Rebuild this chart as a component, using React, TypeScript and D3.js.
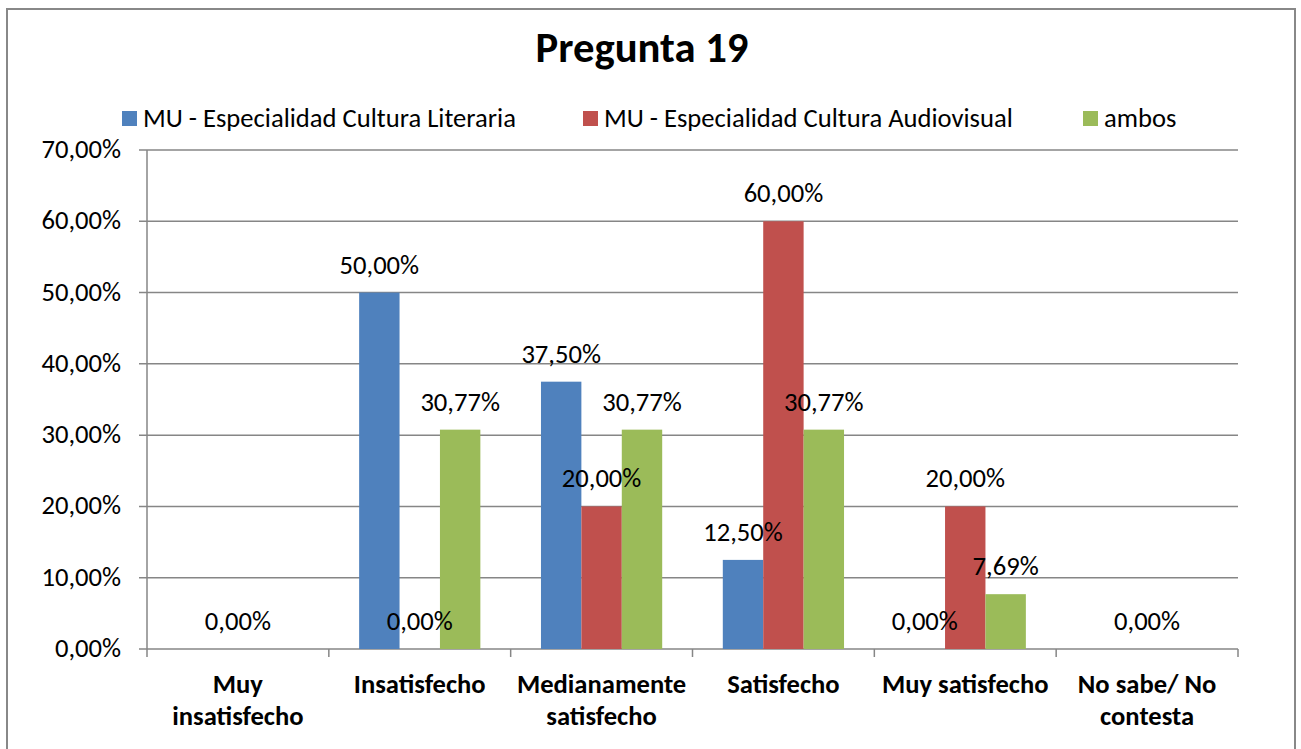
import React from "react";
import * as d3 from "d3";

const categories: string[][] = [
  ["Muy", "insatisfecho"],
  ["Insatisfecho"],
  ["Medianamente", "satisfecho"],
  ["Satisfecho"],
  ["Muy satisfecho"],
  ["No sabe/ No", "contesta"],
];
const seriesNames = [
  "MU - Especialidad Cultura Literaria",
  "MU - Especialidad Cultura Audiovisual",
  "ambos",
];
const literaria: (number | null)[] = [null, 50, 37.5, 12.5, 0, null];
const audiovisual: (number | null)[] = [0, 0, 20, 60, 20, 0];
const ambos: (number | null)[] = [null, 30.77, 30.77, 30.77, 7.69, null];
const yTicks = [0, 10, 20, 30, 40, 50, 60, 70];
const colors = ["#4F81BD", "#C0504D", "#9BBB59"];

const FONT = "Carlito, Calibri, Lato, sans-serif";
const FS = 26.6;

const fmt = (v: number) => v.toFixed(2).replace(".", ",") + "%";

export default function App() {
  const W = 1301, H = 749;
  const left = 147, right = 1238, top = 150, bottom = 649;
  const series = [literaria, audiovisual, ambos];
  const idx = categories.map((_, i) => String(i));
  const x0 = d3.scaleBand<string>().domain(idx).range([left, right]).padding(0);
  const bw = x0.bandwidth() / 4.5;
  const x1 = d3.scaleBand<string>().domain(["0", "1", "2"]).range([0, bw * 3]).padding(0);
  const y = d3.scaleLinear().domain([0, 70]).range([bottom, top]);
  const off = (x0.bandwidth() - bw * 3) / 2;
  const gridColor = "#868686";
  const legendX = [122, 583, 1083];

  return (
    <svg width={W} height={H} style={{ position: "absolute", left: 0, top: 0, background: "#fff" }} fontFamily={FONT}>
      <rect x={7} y={9} width={1288} height={760} fill="#fff" stroke="#888" strokeWidth={2} />
      <text x={642} y={62} textAnchor="middle" fontSize={42.7} fontWeight="bold" fill="#000">Pregunta 19</text>
      {seriesNames.map((s, i) => (
        <g key={s}>
          <rect x={legendX[i]} y={111} width={15} height={15} fill={colors[i]} />
          <text x={legendX[i] + 21} y={127} fontSize={FS} fill="#000">{s}</text>
        </g>
      ))}
      {yTicks.map((t) => (
        <g key={t}>
          <line x1={left - 8} x2={right} y1={y(t)} y2={y(t)} stroke={gridColor} strokeWidth={1.5} />
          <text x={121} y={y(t) + 8} textAnchor="end" fontSize={FS} fill="#000">{fmt(t)}</text>
        </g>
      ))}
      <line x1={left} x2={left} y1={top} y2={bottom} stroke={gridColor} strokeWidth={1.5} />
      {d3.range(categories.length + 1).map((i) => {
        const xx = left + i * x0.bandwidth();
        return <line key={i} x1={xx} x2={xx} y1={bottom} y2={bottom + 8} stroke={gridColor} strokeWidth={1.5} />;
      })}
      {series.map((vals, si) =>
        vals.map((v, ci) =>
          v === null ? null : (
            <rect key={`${si}-${ci}`} x={(x0(String(ci)) as number) + off + (x1(String(si)) as number)} y={y(v)} width={x1.bandwidth()} height={bottom - y(v)} fill={colors[si]} />
          )
        )
      )}
      {series.map((vals, si) =>
        vals.map((v, ci) =>
          v === null ? null : (
            <text key={`l${si}-${ci}`} x={(x0(String(ci)) as number) + off + (x1(String(si)) as number) + x1.bandwidth() / 2} y={y(v) - 19} textAnchor="middle" fontSize={FS} fill="#000">{fmt(v)}</text>
          )
        )
      )}
      {categories.map((lines, ci) => (
        <text key={ci} x={(x0(String(ci)) as number) + x0.bandwidth() / 2} textAnchor="middle" fontSize={FS} fontWeight="bold" fill="#000">
          {lines.map((l, li) => (
            <tspan key={li} x={(x0(String(ci)) as number) + x0.bandwidth() / 2} y={693 + li * 32}>{l}</tspan>
          ))}
        </text>
      ))}
    </svg>
  );
}
